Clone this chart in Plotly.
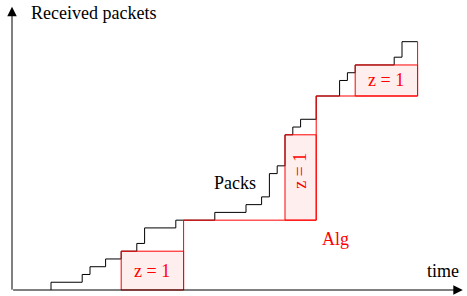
import plotly.graph_objects as go

# ---- data ----
pack_times = [5, 5, 9, 10, 12, 14, 16, 17, 21, 26, 30, 32, 33, 34, 35, 36, 37, 39, 42, 43, 44, 49, 50, 52]
pack_counts = [0, 1, 2, 3, 4, 5, 6, 8, 9, 10, 11, 12, 15, 16, 20, 21, 22, 25, 27, 28, 29, 30, 32, 32]

alg_times = [22, 22, 39, 52]
alg_counts = [0, 9, 25, 32]

box_start = [14, 35, 44]
box_end = [22, 39, 52]
box_low = [0, 9, 25]
box_high = [5, 20, 29]
box_labels = ["z = 1", "z = 1", "z = 1"]
box_label_angle = [0, -90, 0]

RED = "#ff0000"
FONT = "Liberation Serif, Times New Roman, serif"

# pixel scale
TX, T0 = 7.8, 12     # px per time unit, px of t=0
PY, P0 = 7.76, 290   # px per packet, px of p=0

fig = go.Figure()

fig.add_trace(go.Scatter(x=pack_times, y=pack_counts, mode="lines",
                         line=dict(color="black", width=1, shape="hv"),
                         hoverinfo="skip", showlegend=False))

for t0, t1, lo, hi in zip(box_start, box_end, box_low, box_high):
    fig.add_trace(go.Scatter(x=[t0, t1, t1, t0, t0], y=[lo, lo, hi, hi, lo],
                             mode="lines", fill="toself",
                             fillcolor="rgba(255,0,0,0.065)",
                             line=dict(color=RED, width=1),
                             hoverinfo="skip", showlegend=False))

fig.add_trace(go.Scatter(x=alg_times, y=alg_counts, mode="lines",
                         line=dict(color=RED, width=1, shape="hv"),
                         hoverinfo="skip", showlegend=False))

for t0, t1, lo, hi, lab, ang in zip(box_start, box_end, box_low, box_high, box_labels, box_label_angle):
    yc = (lo + hi) / 2 + (0.8 if ang else 0)
    fig.add_annotation(x=(t0 + t1) / 2, y=yc, text=lab, showarrow=False,
                       textangle=ang, font=dict(family=FONT, size=18, color=RED))

# axes arrows
fig.add_annotation(x=57.8, y=0, ax=-0.05, ay=0, axref="x", ayref="y", xref="x", yref="y",
                   text="", showarrow=True, arrowhead=2, arrowsize=1.9,
                   arrowwidth=1, arrowcolor="black")
fig.add_annotation(x=0, y=36.5, ax=0, ay=-0.15, axref="x", ayref="y", xref="x", yref="y",
                   text="", showarrow=True, arrowhead=2, arrowsize=1.9,
                   arrowwidth=1, arrowcolor="black")

fig.add_annotation(x=2.2, y=35.7, text="Received packets", showarrow=False,
                   xanchor="left", font=dict(family=FONT, size=18, color="black"))
fig.add_annotation(x=57.6, y=2.5, text="time", showarrow=False,
                   xanchor="right", font=dict(family=FONT, size=18, color="black"))
fig.add_annotation(x=28.6, y=13.8, text="Packs", showarrow=False,
                   font=dict(family=FONT, size=18, color="black"))
fig.add_annotation(x=41.5, y=6.6, text="Alg", showarrow=False,
                   font=dict(family=FONT, size=18, color=RED))

fig.update_layout(
    width=467, height=296,
    margin=dict(l=0, r=0, t=0, b=0),
    paper_bgcolor="white", plot_bgcolor="white",
    xaxis=dict(range=[-T0 / TX, (467 - T0) / TX], visible=False, fixedrange=True),
    yaxis=dict(range=[-(296 - P0) / PY, P0 / PY], visible=False, fixedrange=True),
    showlegend=False,
)

fig.write_html("out.html", config={"displayModeBar": False},
               post_script="document.body.style.margin='0';")
